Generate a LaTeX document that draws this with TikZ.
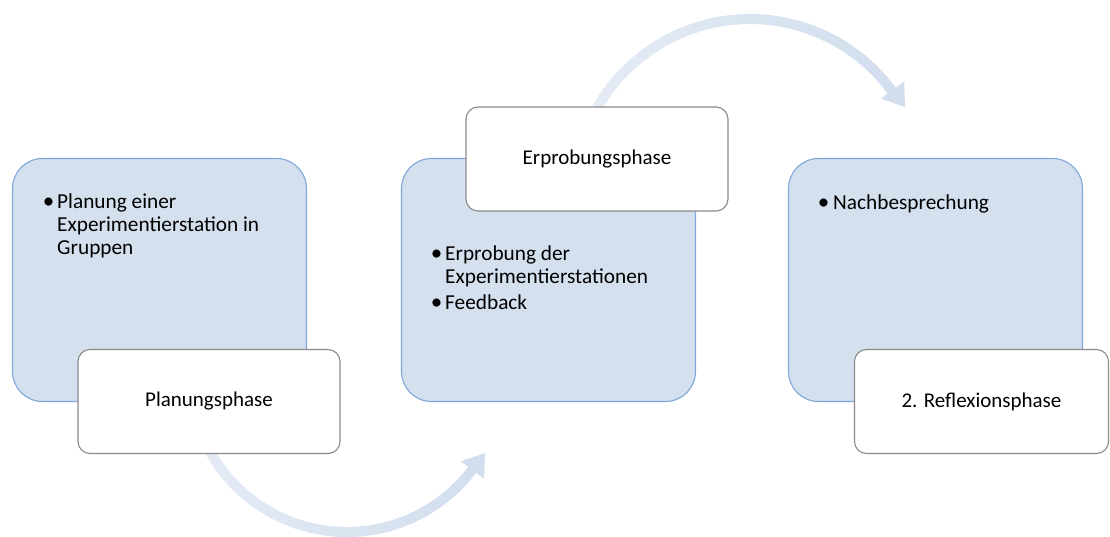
\documentclass[tikz,border=0pt]{standalone}
\usepackage{fontspec}
\setmainfont{Carlito}
\definecolor{panelfill}{HTML}{D5E0EF}
\definecolor{panelline}{HTML}{7EA6D8}
\definecolor{tagline}{HTML}{8A8A8A}
\definecolor{flowlight}{HTML}{E4EBF5}
\definecolor{flowdark}{HTML}{D2DEEE}

% curved band from angle #4 to #5 around (#1,#2), radius #3, light to dark
\newcommand\flowarc[5]{%
  \foreach \k in {0,...,23}{%
    \pgfmathsetmacro\ta{#4+(#5-#4)*\k/24}%
    \pgfmathsetmacro\tb{#4+(#5-#4)*(\k+1.2)/24}%
    \pgfmathtruncatemacro\p{100*\k/23}%
    \draw[flow, draw=flowdark!\p!flowlight]
      plot[domain=\ta:\tb, samples=5] ({#1+#3*cos(\x)},{#2+#3*sin(\x)});
  }}

\tikzset{
  panel/.style={draw=panelline, fill=panelfill, line width=1.1pt,
    rounded corners=30pt, minimum width=294pt, minimum height=243pt, inner sep=0pt},
  tag/.style={draw=tagline, fill=white, line width=1.1pt,
    rounded corners=12pt, minimum height=104pt, inner sep=0pt,
    font=\fontsize{21}{23}\selectfont},
  flow/.style={line width=10pt},
  head/.style={fill=flowdark},
  line/.style={anchor=base west, inner sep=0pt, font=\fontsize{21.3}{23}\selectfont},
  dot/.style={anchor=base, inner sep=0pt, font=\fontsize{23}{23}\selectfont}
}

\begin{document}
\begin{tikzpicture}[x=1pt, y=-1pt]
\useasboundingbox (0,0) rectangle (1110,536);

% the three phase panels
\node[panel] (p1) at (159.5,280) {};
\node[panel] (p2) at (548.5,280) {};
\node[panel] (p3) at (935.5,280) {};

% bullet lists inside the panels
\node[dot]  (d1)  at (48.5,208.5) {•};
\node[line] (l11) at (57,208) {Planung einer};
\node[line] (l12) at (57,231) {Experimentierstation in};
\node[line] (l13) at (57,254) {Gruppen};

\node[dot]  (d2)  at (436.5,260.5) {•};
\node[line] (l21) at (445,260) {Erprobung der};
\node[line] (l22) at (445,283) {Experimentierstationen};
\node[dot]  (d3)  at (436.5,309.5) {•};
\node[line] (l23) at (445,309) {Feedback};

\node[dot]  (d4)  at (823.5,209.5) {•};
\node[line] (l31) at (833,209) {Nachbesprechung};

% curved arrows between the phases
\flowarc{347}{375}{157}{152}{37.1}
\coordinate (h1tip) at (485,453);
\coordinate (h1a) at (460.9,461.3);
\coordinate (h1b) at (484.1,478.7);
\fill[head] (h1a) -- (h1tip) -- (h1b) -- cycle;

\flowarc{750}{195}{176}{208}{323.6}
\coordinate (h2tip) at (905,107);
\coordinate (h2a) at (880.8,98.6);
\coordinate (h2b) at (904.2,81.4);
\fill[head] (h2a) -- (h2tip) -- (h2b) -- cycle;

% phase titles
\node[tag, minimum width=262pt] (t1) at (209,401.5) {Planungsphase};
\node[tag, minimum width=262pt] (t2) at (597,159) {Erprobungsphase};
\node[tag, minimum width=254pt] (t3) at (981.5,401.5) {2. Reflexionsphase};
\end{tikzpicture}
\end{document}
